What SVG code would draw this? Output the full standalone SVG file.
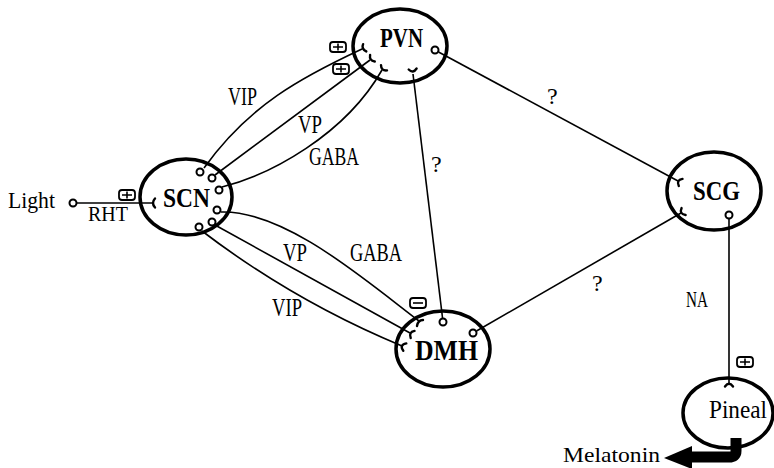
<svg xmlns="http://www.w3.org/2000/svg" width="774" height="468" viewBox="0 0 774 468">
<style>
.node{fill:none;stroke:#000;stroke-width:3.5}
.ln{fill:none;stroke:#000;stroke-width:1.6}
.syn{fill:none;stroke:#000;stroke-width:2.4;stroke-linecap:round}
.oc{fill:#fff;stroke:#000;stroke-width:2}
.box{fill:#fff;stroke:#000;stroke-width:1.8}
.sign{stroke:#000;stroke-width:1.6;fill:none}
.t{font-family:"Liberation Serif","Times New Roman",serif;fill:#000}
.b{font-weight:bold}
</style>
<g id="connectors">
<!-- Light -> SCN -->
<line class="ln" x1="76.5" y1="203" x2="152" y2="203"/>
<!-- SCN -> PVN -->
<path class="ln" d="M204,168 C249,105 302,77 362,49"/>
<line class="ln" x1="215" y1="175" x2="370" y2="60"/>
<path class="ln" d="M222,187 C270,175 345,135 382,70"/>
<!-- SCN -> DMH -->
<path class="ln" d="M221,212 C285,210 365,280 419,321"/>
<line class="ln" x1="215" y1="225" x2="410" y2="333"/>
<path class="ln" d="M202,231 Q294.5,301.5 402,346"/>
<!-- DMH -> PVN -->
<line class="ln" x1="442.6" y1="318.5" x2="413" y2="74"/>
<!-- PVN -> SCG -->
<line class="ln" x1="438.5" y1="52" x2="678" y2="181"/>
<!-- DMH -> SCG -->
<line class="ln" x1="476.5" y1="331" x2="681" y2="213"/>
<!-- SCG -> Pineal -->
<line class="ln" x1="729" y1="218.5" x2="729" y2="383"/>
<!-- Melatonin arrow -->
<path d="M736,438 L736,451 Q736,457 729,457 L690,457" fill="none" stroke="#000" stroke-width="11"/>
<polygon points="664,458 692,446 692,469" fill="#000"/>
</g>
<g id="synapses">
<path class="syn" d="M155,198.5 Q151,203 155,207.5"/>
<path class="syn" d="M366.3,51.4 Q361,48.5 363.1,44.2"/>
<path class="syn" d="M374.8,61.5 Q369,60.5 370.1,55"/>
<path class="syn" d="M387,70.4 Q381,71 381,65.1"/>
<path class="syn" d="M416.6,68.5 Q413,74 408.7,69.5"/>
<path class="syn" d="M417,326 Q418,320 423,320"/>
<path class="syn" d="M410.7,338 Q408.5,332 414.5,330.9"/>
<path class="syn" d="M403.3,350.8 Q399,345 406.3,343.4"/>
<path class="syn" d="M678.8,185.9 Q676,180 682.5,178.9"/>
<path class="syn" d="M685.6,215 Q679,214 681.6,208"/>
<path class="syn" d="M733,386.5 Q729,381 725,386.5"/>
</g>
<g id="terminals">
<circle class="oc" cx="73" cy="203" r="3.5"/>
<circle class="oc" cx="200" cy="172" r="3.5"/>
<circle class="oc" cx="212" cy="178" r="3.5"/>
<circle class="oc" cx="219" cy="190" r="3.5"/>
<circle class="oc" cx="217" cy="210" r="3.5"/>
<circle class="oc" cx="212" cy="222" r="3.5"/>
<circle class="oc" cx="199" cy="227" r="3.5"/>
<circle class="oc" cx="435" cy="50" r="3.5"/>
<circle class="oc" cx="443" cy="322" r="3.5"/>
<circle class="oc" cx="473" cy="333" r="3.5"/>
<circle class="oc" cx="729" cy="215" r="3.5"/>
</g>
<g id="signs">
<rect class="box" x="119" y="190" width="16" height="10" rx="3"/>
<path class="sign" d="M122,195 H132 M127,191.5 V198.5"/>
<rect class="box" x="330" y="42" width="16" height="10" rx="3"/>
<path class="sign" d="M333,47 H343 M338,43.5 V50.5"/>
<rect class="box" x="333" y="64" width="16" height="10" rx="3"/>
<path class="sign" d="M336,69 H346 M341,65.5 V72.5"/>
<rect class="box" x="737" y="357" width="16" height="10" rx="3"/>
<path class="sign" d="M740,362 H750 M745,358.5 V365.5"/>
<rect class="box" x="410" y="298" width="16" height="10" rx="3"/>
<path class="sign" d="M413,303 H423"/>
</g>
<g id="SCN">
<ellipse class="node" cx="186" cy="197" rx="46" ry="38"/>
<text class="t b" x="163" y="207" font-size="27" textLength="47" lengthAdjust="spacingAndGlyphs">SCN</text>
</g>
<g id="PVN">
<ellipse class="node" cx="400" cy="46" rx="47" ry="37"/>
<text class="t b" x="380" y="47" font-size="28" textLength="43" lengthAdjust="spacingAndGlyphs">PVN</text>
</g>
<g id="DMH">
<ellipse class="node" cx="443" cy="349" rx="47" ry="38"/>
<text class="t b" x="415" y="360" font-size="29" textLength="63" lengthAdjust="spacingAndGlyphs">DMH</text>
</g>
<g id="SCG">
<ellipse class="node" cx="714" cy="191" rx="47" ry="39"/>
<text class="t b" x="693" y="200" font-size="28" textLength="47" lengthAdjust="spacingAndGlyphs">SCG</text>
</g>
<g id="Pineal">
<ellipse class="node" cx="728" cy="413" rx="45" ry="35"/>
<text class="t" x="709" y="418" font-size="26" textLength="58" lengthAdjust="spacingAndGlyphs">Pineal</text>
</g>
<g id="labels">
<text class="t" x="8" y="208" font-size="24" textLength="47" lengthAdjust="spacingAndGlyphs">Light</text>
<text class="t" x="88" y="221" font-size="21" textLength="40" lengthAdjust="spacingAndGlyphs">RHT</text>
<text class="t" x="563" y="462" font-size="22" textLength="97" lengthAdjust="spacingAndGlyphs">Melatonin</text>
<text class="t" x="228" y="105" font-size="25" textLength="29" lengthAdjust="spacingAndGlyphs">VIP</text>
<text class="t" x="298" y="133" font-size="25" textLength="24" lengthAdjust="spacingAndGlyphs">VP</text>
<text class="t" x="309" y="165" font-size="25" textLength="50" lengthAdjust="spacingAndGlyphs">GABA</text>
<text class="t" x="283" y="261" font-size="25" textLength="24" lengthAdjust="spacingAndGlyphs">VP</text>
<text class="t" x="350" y="261" font-size="25" textLength="52" lengthAdjust="spacingAndGlyphs">GABA</text>
<text class="t" x="272" y="316" font-size="25" textLength="30" lengthAdjust="spacingAndGlyphs">VIP</text>
<text class="t" x="686" y="307" font-size="23" textLength="22" lengthAdjust="spacingAndGlyphs">NA</text>
<text class="t" x="547" y="104" font-size="24">?</text>
<text class="t" x="431" y="172" font-size="24">?</text>
<text class="t" x="592" y="291" font-size="24">?</text>
</g>
</svg>
